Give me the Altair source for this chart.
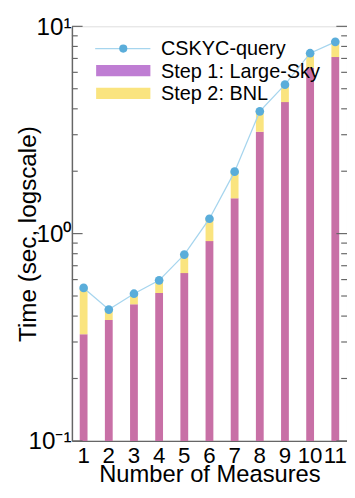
import altair as alt
import pandas as pd

measures = [1, 2, 3, 4, 5, 6, 7, 8, 9, 10, 11]
query_total = [0.547, 0.43, 0.513, 0.595, 0.792, 1.18, 1.99, 3.89, 5.23, 7.42, 8.42]
step1_large_sky = [0.327, 0.383, 0.456, 0.517, 0.645, 0.92, 1.48, 3.1, 4.31, 6.3, 7.11]
legend_labels = ["CSKYC-query", "Step 1: Large-Sky", "Step 2: BNL"]
minor_ticks = [0.2, 0.3, 0.4, 0.5, 0.6, 0.7, 0.8, 0.9, 2, 3, 4, 5, 6, 7, 8, 9]
major_ticks = [0.1, 1, 10]

FONT = "Liberation Sans"
W, H = 284, 428
PURPLE = "#C870A6"
PURPLE_LEG = "#BF7DD3"
YELLOW = "#FAE47F"
LINE = "#A6D5EE"
DOT = "#5AADDA"
GRID = "#666666"

df = pd.DataFrame({
    "m": [str(v) for v in measures],
    "total": query_total,
    "s1": step1_large_sky,
    "base": [0.1] * len(measures),
})

ysc = alt.Scale(type="log", domain=[0.1, 10], nice=False)
xsc = alt.Scale(paddingInner=0.69, paddingOuter=0.31)
xenc = alt.X("m:N", sort=[str(v) for v in measures], scale=xsc,
             axis=alt.Axis(title="Number of Measures", labelAngle=0, ticks=False,
                           labelFont=FONT, labelFontSize=23, labelColor="black",
                           labelPadding=4, titleFont=FONT, titleFontSize=24.5,
                           titleFontWeight="normal", titleColor="black",
                           titleY=42, titleBaseline="alphabetic",
                           domainColor=GRID, domainWidth=1.5))

base = alt.Chart(df)

purple = base.mark_bar(color=PURPLE).encode(
    x=xenc,
    y=alt.Y("s1:Q", scale=ysc, axis=alt.Axis(
        title="Time (sec, logscale)", values=major_ticks, ticks=False, grid=False,
        labelExpr="datum.value == 10 ? '10¹' : (datum.value == 1 ? '10⁰' : '10⁻¹')",
        labelFont=FONT, labelFontSize=25, labelColor="black", labelPadding=1,
        titleFont=FONT, titleFontSize=25, titleFontWeight="normal", titleColor="black",
        titleX=-38, titleBaseline="alphabetic",
        domainColor=GRID, domainWidth=1.5)),
    y2="base:Q",
)
yellow = base.mark_bar(color=YELLOW).encode(x=xenc, y=alt.Y("total:Q", scale=ysc), y2="s1:Q")
line = base.mark_line(color=LINE, strokeWidth=1.3).encode(x=xenc, y=alt.Y("total:Q", scale=ysc))
pts = base.mark_circle(color=DOT, size=80, opacity=1).encode(x=xenc, y=alt.Y("total:Q", scale=ysc))

minor_df = pd.DataFrame({"v": minor_ticks})
major_df = pd.DataFrame({"v": major_ticks})
tick_layers = []
for d, ln in [(minor_df, 6), (major_df, 11)]:
    tick_layers.append(alt.Chart(d).mark_rule(color=GRID, strokeWidth=1.2).encode(
        y=alt.Y("v:Q", scale=ysc), x=alt.value(0), x2=alt.value(ln)))
    tick_layers.append(alt.Chart(d).mark_rule(color=GRID, strokeWidth=1.2).encode(
        y=alt.Y("v:Q", scale=ysc), x=alt.value(W - ln), x2=alt.value(W)))

one = pd.DataFrame({"k": [0]})
leg_line = alt.Chart(one).mark_rule(color=LINE, strokeWidth=1.3).encode(
    x=alt.value(24), x2=alt.value(81), y=alt.value(23))
leg_dot = alt.Chart(one).mark_circle(color=DOT, size=70, opacity=1).encode(
    x=alt.value(53), y=alt.value(23))
leg_p = alt.Chart(one).mark_rect(color=PURPLE_LEG).encode(
    x=alt.value(25), x2=alt.value(81), y=alt.value(40), y2=alt.value(51.5))
leg_y = alt.Chart(one).mark_rect(color=YELLOW).encode(
    x=alt.value(25), x2=alt.value(81), y=alt.value(63.5), y2=alt.value(75))
leg_text = []
for i, (lab, yy) in enumerate(zip(legend_labels, [24, 47, 70])):
    leg_text.append(alt.Chart(pd.DataFrame({"t": [lab]})).mark_text(
        font=FONT, fontSize=20.5, align="left", baseline="middle", color="black").encode(
        text="t:N", x=alt.value(92), y=alt.value(yy)))

chart = alt.layer(purple, yellow, line, pts, *tick_layers, leg_line, leg_dot, leg_p, leg_y, *leg_text).properties(
    width=W, height=H,
    autosize=alt.AutoSizeParams(type="none"),
    padding={"left": 66, "top": 11, "right": 0, "bottom": 50},
).configure_view(stroke=GRID, strokeWidth=1.5).configure(background="white")

chart.save("out.html", embed_options={"renderer": "svg", "actions": False})
